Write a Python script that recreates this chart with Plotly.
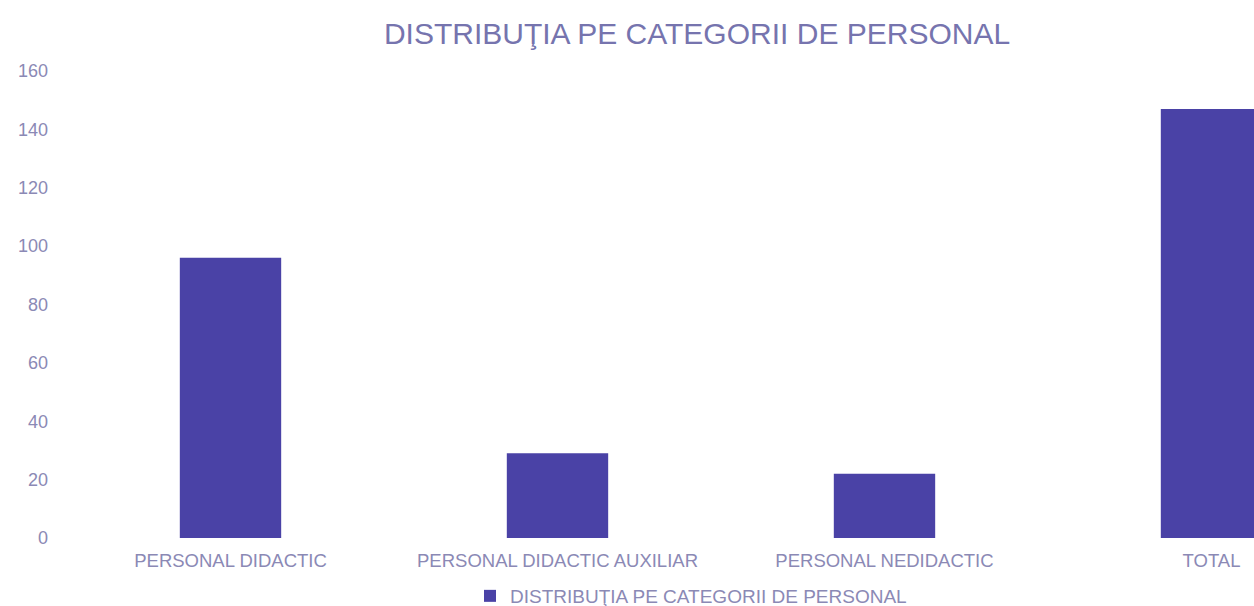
import plotly.graph_objects as go

categories = ["PERSONAL DIDACTIC", "PERSONAL DIDACTIC AUXILIAR", "PERSONAL NEDIDACTIC", "TOTAL"]
values = [96, 29, 22, 147]
series_name = "DISTRIBUŢIA PE CATEGORII DE PERSONAL"
title_text = "DISTRIBUŢIA PE CATEGORII DE PERSONAL"
y_ticks = [0, 20, 40, 60, 80, 100, 120, 140, 160]

bar_color = "#4a42a6"
text_color = "#8b89b5"

fig = go.Figure()
fig.add_trace(go.Bar(
    x=categories, y=values, name=series_name,
    marker=dict(color=bar_color, line=dict(width=0)),
    showlegend=True,
))

fig.update_layout(
    width=1254, height=606,
    paper_bgcolor="white", plot_bgcolor="white",
    margin=dict(l=67, r=0, t=71, b=68),
    bargap=0.69,
    font=dict(family="Liberation Sans, Arial, sans-serif", color=text_color, size=15),
    title=dict(text=title_text, x=697/1254, xref="container", xanchor="center",
               y=1-33/606, yref="container", yanchor="middle",
               font=dict(size=30, color="#7674ae")),
    legend=dict(orientation="h", xref="container", yref="container",
                x=691/1254, xanchor="center", y=10/606, yanchor="middle",
                font=dict(size=19, color=text_color)),
    xaxis=dict(range=[-0.5, 3.13], showgrid=False, showline=False, zeroline=False,
               ticks="", tickfont=dict(size=18.5, color=text_color), ticklabelstandoff=9),
    yaxis=dict(range=[0, 160], tickvals=y_ticks, showgrid=False, showline=False,
               zeroline=False, ticks="", tickfont=dict(size=18, color=text_color),
               ticklabelstandoff=18),
)

fig.write_html("out.html", config={"displayModeBar": False},
               post_script="document.body.style.margin='0';document.body.style.overflow='hidden';")
